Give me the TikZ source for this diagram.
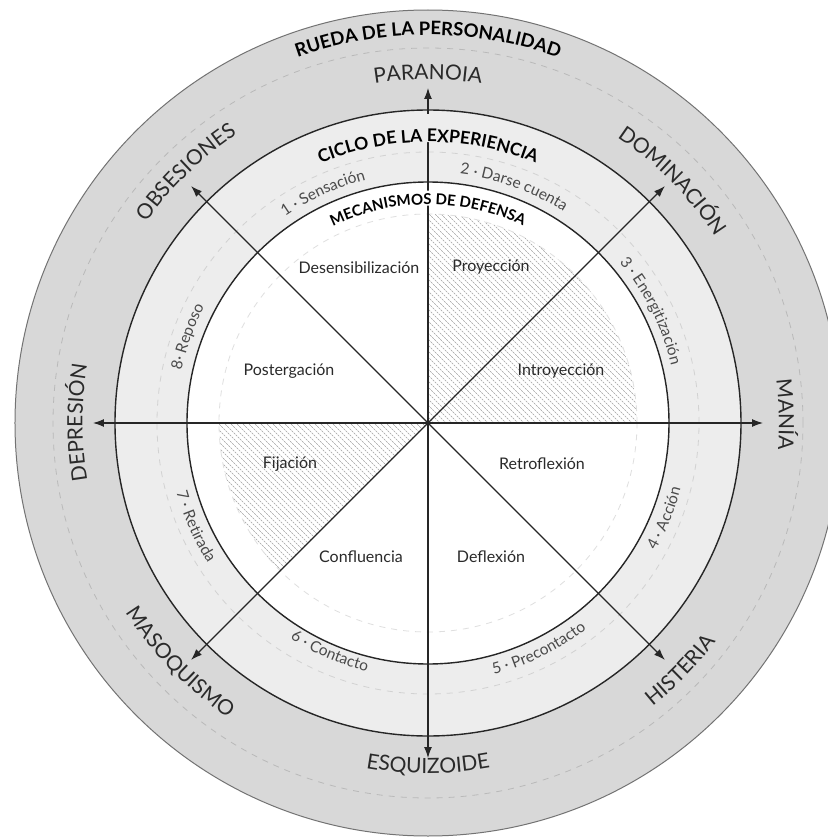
\documentclass[tikz,border=0pt]{standalone}
\usepackage{fontspec}
\setmainfont{Lato}
\usetikzlibrary{arrows.meta,decorations.text}

\definecolor{ringdark}{HTML}{D8D8D8}
\definecolor{ringlight}{HTML}{EDEDED}
\definecolor{ink}{HTML}{2A2A2A}
\definecolor{stageink}{HTML}{4A4A4A}

% text along an arc: angle, radius, format, text
\newcommand\toparc[4]{\path[decorate,decoration={text along path,text align=center,text={|#3|#4}}]
  (#1+40:#2) arc[start angle=#1+40,end angle=#1-40,radius=#2];}
\newcommand\botarc[4]{\path[decorate,decoration={text along path,text align=center,text={|#3|#4}}]
  (#1-40:#2) arc[start angle=#1-40,end angle=#1+40,radius=#2];}

\newcommand\outerfmt{\color{ink}\fontsize{21}{24}\selectfont}
\newcommand\stagefmt{\color{stageink}\fontsize{15.5}{18}\selectfont}

\begin{document}
\begin{tikzpicture}[x=1pt,y=1pt,
  ringline/.style={draw=black!85,line width=1.4pt},
  dashcircle/.style={draw=#1,dash pattern=on 6pt off 6pt,line width=0.8pt},
  axis/.style={draw=black!85,line width=1.1pt,-{Latex[length=11pt,width=8pt]}},
  hatch/.style={draw=gray!75,line width=0.6pt,dash pattern=on 2pt off 1pt},
  sector/.style={font=\fontsize{16}{19}\selectfont,text=ink,inner sep=0pt}]
\useasboundingbox (-428,-416) rectangle (400,423);
\coordinate (o) at (0,0);

% rings
\fill[ringdark] (o) circle (413);
\draw[black!55,line width=1pt] (o) circle (413);
\fill[ringlight] (o) circle (313);
\fill[white] (o) circle (241);

% hatched sectors
\begin{scope}
\clip (o) -- (0:209) arc[start angle=0,end angle=90,radius=209] -- cycle
      (o) -- (180:209) arc[start angle=180,end angle=225,radius=209] -- cycle;
\foreach \c in {-360,-354,...,420}
  \draw[hatch] (\c-300,300) -- (\c+300,-300);
\end{scope}

% dashed circles
\draw[dashcircle=gray!55] (o) circle (375);
\draw[dashcircle=gray!35] (o) circle (271);
\draw[dashcircle=gray!25] (o) circle (209);

% axes
\foreach \a/\n in {90/paranoia,45/dominacion,0/mania,-45/histeria,-90/esquizoide,-135/masoquismo,180/depresion,135/obsesiones}{
  \coordinate (\n) at (\a:335);
  \draw[axis] (o) -- (\n);
}

% solid circles
\draw[ringline] (o) circle (313);
\draw[ringline] (o) circle (241);

% masks behind titles
\draw[ringlight,line width=28pt] (94:295) arc[start angle=94,end angle=86,radius=295];
\draw[white,line width=15pt] (93:225) arc[start angle=93,end angle=87,radius=225];

% titles
\toparc{90}{388}{\color{black}\bfseries\fontsize{18.5}{20}\selectfont}{RUEDA DE LA PERSONALIDAD}
\toparc{90}{281}{\color{black}\bfseries\fontsize{17.5}{20}\selectfont}{CICLO DE LA EXPERIENCIA}
\toparc{90}{218.5}{\color{black}\bfseries\fontsize{15}{17}\selectfont}{MECANISMOS DE DEFENSA}

% personality
\toparc{90}{343.5}{\outerfmt}{PARANOIA}
\toparc{44.7}{342.5}{\outerfmt}{DOMINACIÓN}
\toparc{1.4}{351}{\outerfmt}{MANÍA}
\botarc{-44.4}{361.5}{\outerfmt}{HISTERIA}
\botarc{-90}{350.5}{\outerfmt}{ESQUIZOIDE}
\botarc{-136}{356.5}{\outerfmt}{MASOQUISMO}
\toparc{180}{345.5}{\outerfmt}{DEPRESIÓN}
\toparc{134}{346}{\outerfmt}{OBSESIONES}

% cycle of experience
\toparc{114.5}{251}{\stagefmt}{1 · Sensación}
\toparc{70}{251}{\stagefmt}{2 · Darse cuenta}
\toparc{26.7}{250}{\stagefmt}{3 · Energitización}
\botarc{-21.9}{261}{\stagefmt}{4 · Acción}
\botarc{-63.9}{260}{\stagefmt}{5 · Precontacto}
\botarc{-113.2}{256}{\stagefmt}{6 · Contacto}
\botarc{204}{261}{\stagefmt}{7 · Retirada}
\toparc{160.3}{252}{\stagefmt}{8· Reposo}

% defence mechanisms
\node[sector] (desens) at (-69,155)  {Desensibilización};
\node[sector] (proy)   at (63,156)   {Proyección};
\node[sector] (intro)  at (133,52)   {Introyección};
\node[sector] (poster) at (-139,52)  {Postergación};
\node[sector] (fij)    at (-138,-41) {Fijación};
\node[sector] (retro)  at (114,-41)  {Retroflexión};
\node[sector] (confl)  at (-67,-134) {Confluencia};
\node[sector] (defl)   at (63,-134)  {Deflexión};
\end{tikzpicture}
\end{document}
